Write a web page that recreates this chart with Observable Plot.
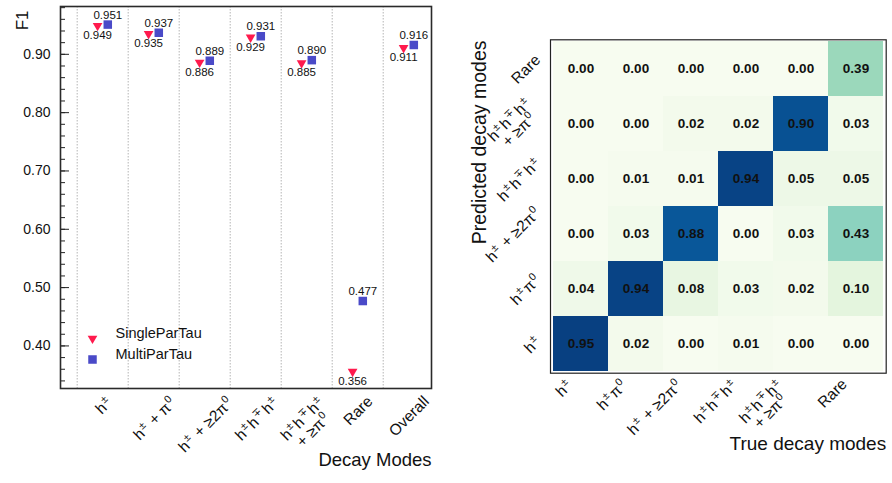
<!DOCTYPE html>
<html>
<head>
<meta charset="utf-8">
<script src="https://cdn.jsdelivr.net/npm/d3@7"></script>
<script src="https://cdn.jsdelivr.net/npm/@observablehq/plot@0.6"></script>
<style>
  html, body { margin: 0; padding: 0; background: #fff; }
  #chart { display: flex; width: 892px; height: 483px; }
</style>
</head>
<body>
<div id="chart"></div>
<script>
// ---- F1 score per decay mode ----
const categories = [
  "h^{±}", "h^{±} + π^{0}", "h^{±} + ≥2π^{0}", "h^{±}h^{∓}h^{±}",
  "h^{±}h^{∓}h^{±}\n+ ≥π^{0}", "Rare", "Overall"
];
const seriesNames = ["SingleParTau", "MultiParTau"];
const singleParTau = [0.949, 0.935, 0.886, 0.929, 0.885, 0.356, 0.911];
const multiParTau  = [0.951, 0.937, 0.889, 0.931, 0.890, 0.477, 0.916];
const yTickValues = [0.40, 0.50, 0.60, 0.70, 0.80, 0.90];

// ---- confusion matrix (rows: predicted mode, columns: true mode) ----
const decayModes = [
  "h^{±}", "h^{±}π^{0}", "h^{±} + ≥2π^{0}", "h^{±}h^{∓}h^{±}",
  "h^{±}h^{∓}h^{±}\n+ ≥π^{0}", "Rare"
];
const confusion = [
  [0.95, 0.02, 0.00, 0.01, 0.00, 0.00],
  [0.04, 0.94, 0.08, 0.03, 0.02, 0.10],
  [0.00, 0.03, 0.88, 0.00, 0.03, 0.43],
  [0.00, 0.01, 0.01, 0.94, 0.05, 0.05],
  [0.00, 0.00, 0.02, 0.02, 0.90, 0.03],
  [0.00, 0.00, 0.00, 0.00, 0.00, 0.39]
];

const FONT = "'Liberation Sans', Arial, Helvetica, sans-serif";
const RED = "#ff1a4d";
const BLUE = "#4a4ac8";
const SQ = Math.SQRT1_2;
const LABEL_SIZE = 15.5;

const triangleDown = {
  draw(context, size) {
    const y = Math.sqrt(size / (Math.sqrt(3) * 3));
    context.moveTo(0, 2 * y);
    context.lineTo(-Math.sqrt(3) * y, -y);
    context.lineTo(Math.sqrt(3) * y, -y);
    context.closePath();
  }
};

const single = singleParTau.map((v, i) => ({i, v}));
const multi = multiParTau.map((v, i) => ({i, v}));
const OFF = 0.1; // horizontal split of the two series inside a category

const left = Plot.plot({
  width: 440, height: 483,
  marginLeft: 60, marginRight: 9, marginTop: 6, marginBottom: 95,
  style: {fontFamily: FONT, background: "#fff", color: "#111"},
  x: {domain: [-0.827, 6.447], axis: null},
  y: {domain: [0.327, 0.982], axis: null},
  marks: [
    Plot.ruleX(categories, {x: (d, i) => i - 0.5, stroke: "#b4b4b4", strokeDasharray: "1.5,1.5"}),
    Plot.tickY(d3.ticks(0.34, 0.98, 32), {y: d => d, insetRight: 366, stroke: "#222"}),
    Plot.tickY(yTickValues, {y: d => d, insetRight: 362, stroke: "#222"}),
    Plot.axisY({ticks: yTickValues, tickSize: 0, tickPadding: 10, tickFormat: ".2f", fontSize: 14, label: null}),
    Plot.frame({stroke: "#2a2a2a", strokeWidth: 1.6}),
    Plot.dot(single, {x: d => d.i - OFF, y: "v", symbol: triangleDown, r: 3.6, fill: RED}),
    Plot.dot(multi, {x: d => d.i + OFF, y: "v", symbol: "square", r: 4.8, fill: BLUE}),
    Plot.text(single, {x: d => d.i - OFF, y: "v", text: d => d.v.toFixed(3), dy: 9.5, fontSize: 11.5, fill: "#111"}),
    Plot.text(multi, {x: d => d.i + OFF, y: "v", text: d => d.v.toFixed(3), dy: -9.5, fontSize: 11.5, fill: "#111"}),
    // legend
    Plot.dot([seriesNames[0]], {frameAnchor: "bottom-left", dx: 32, dy: -50, symbol: triangleDown, r: 3.6, fill: RED}),
    Plot.dot([seriesNames[1]], {frameAnchor: "bottom-left", dx: 32, dy: -29, symbol: "square", r: 4.8, fill: BLUE}),
    Plot.text([seriesNames[0]], {frameAnchor: "bottom-left", dx: 55, dy: -51, textAnchor: "start", fontSize: 14.5, fill: "#111"}),
    Plot.text([seriesNames[1]], {frameAnchor: "bottom-left", dx: 55, dy: -30, textAnchor: "start", fontSize: 14.5, fill: "#111"}),
    // category labels
    Plot.text(categories, {x: (d, i) => i, frameAnchor: "bottom", rotate: -45, textAnchor: "middle",
      lineAnchor: "middle", lineHeight: 1.4, fontSize: LABEL_SIZE, fill: "#111", className: "xlab"}),
    Plot.text(["Decay Modes"], {frameAnchor: "bottom-right", dy: 77, textAnchor: "end", fontSize: 18.5, fill: "#111"}),
    Plot.text(["F1"], {frameAnchor: "top-left", dx: -45, dy: 4, rotate: -90, textAnchor: "end", fontSize: 17, fill: "#111"})
  ]
});

const cells = confusion.flatMap((row, r) => row.map((v, c) => ({p: decayModes[r], t: decayModes[c], v})));

const right = Plot.plot({
  width: 452, height: 483,
  marginLeft: 110, marginRight: 6.3, marginTop: 39.3, marginBottom: 110.3,
  style: {fontFamily: FONT, background: "#fff", color: "#111"},
  x: {domain: decayModes, padding: 0, axis: null},
  y: {domain: decayModes.slice().reverse(), padding: 0, axis: null},
  color: {type: "linear", scheme: "GnBu", domain: [0, d3.max(cells, d => d.v)]},
  marks: [
    Plot.cell(cells, {x: "t", y: "p", fill: "v", inset: 0}),
    Plot.text(cells, {x: "t", y: "p", text: d => d.v.toFixed(2), fontWeight: "bold", fontSize: 13.5, fill: "#111"}),
    Plot.frame({stroke: "#222", strokeWidth: 1.2}),
    Plot.text(decayModes, {x: d => d, frameAnchor: "bottom", rotate: -45, textAnchor: "middle",
      lineAnchor: "middle", lineHeight: 1.3, fontSize: LABEL_SIZE, fill: "#111", className: "xlab"}),
    Plot.text(decayModes, {y: d => d, frameAnchor: "left", rotate: -45, textAnchor: "middle",
      lineAnchor: "middle", lineHeight: 1.3, fontSize: LABEL_SIZE, fill: "#111", className: "ylab"}),
    Plot.text(["True decay modes"], {frameAnchor: "bottom-right", dy: 76.5, textAnchor: "end", fontSize: 19, fill: "#111"}),
    Plot.text(["Predicted decay modes"], {frameAnchor: "top-left", dx: -78, dy: 0.7, rotate: -90, textAnchor: "end", fontSize: 19.5, fill: "#111"})
  ]
});

const host = document.getElementById("chart");
host.append(left, right);

// turn "x^{s}" markup into raised, smaller tspans with a little breathing room
function superscripts(text, fontSize) {
  const lines = text.querySelector("tspan") ? Array.from(text.children) : [text];
  const shift = fontSize * 0.4;
  for (const line of lines) {
    const src = line.textContent;
    line.textContent = "";
    let raised = false;
    for (const part of src.split(/(\^\{[^}]*\})/)) {
      if (!part) continue;
      const sup = part.startsWith("^{");
      const t = document.createElementNS("http://www.w3.org/2000/svg", "tspan");
      t.textContent = sup ? part.slice(2, -1) : part;
      if (sup) {
        t.setAttribute("font-size", fontSize * 0.68);
        t.setAttribute("dx", fontSize * 0.06);
        if (!raised) t.setAttribute("dy", -shift);
        raised = true;
      } else if (raised) {
        t.setAttribute("dy", shift);
        t.setAttribute("dx", fontSize * 0.12);
        raised = false;
      }
      line.appendChild(t);
    }
  }
}

// place a label rotated by 45° so that its rotated bounding box lands where target() says
function alignRotated(text, target) {
  const bb = text.getBBox();
  const cx = bb.x + bb.width / 2, cy = bb.y + bb.height / 2;
  const half = (bb.width + bb.height) * SQ / 2;
  const m = text.getAttribute("transform").match(/translate\(\s*([-\d.e]+)[,\s]+([-\d.e]+)\s*\)/);
  const x0 = +m[1], y0 = +m[2];
  const [tx, ty] = target(x0, y0, half);
  text.setAttribute("transform", `translate(${tx - (cx + cy) * SQ},${ty - (cy - cx) * SQ}) rotate(-45)`);
}

left.querySelectorAll("g.xlab text").forEach(t => {
  superscripts(t, LABEL_SIZE);
  alignRotated(t, (x0, y0, half) => [x0, y0 + 4 + half]);
});
right.querySelectorAll("g.xlab text").forEach(t => {
  superscripts(t, LABEL_SIZE);
  alignRotated(t, (x0, y0, half) => [x0 - 6 - half, y0 + 2 + half]);
});
right.querySelectorAll("g.ylab text").forEach(t => {
  superscripts(t, LABEL_SIZE);
  alignRotated(t, (x0, y0, half) => [x0 - 7 - half, y0]);
});
</script>
</body>
</html>
